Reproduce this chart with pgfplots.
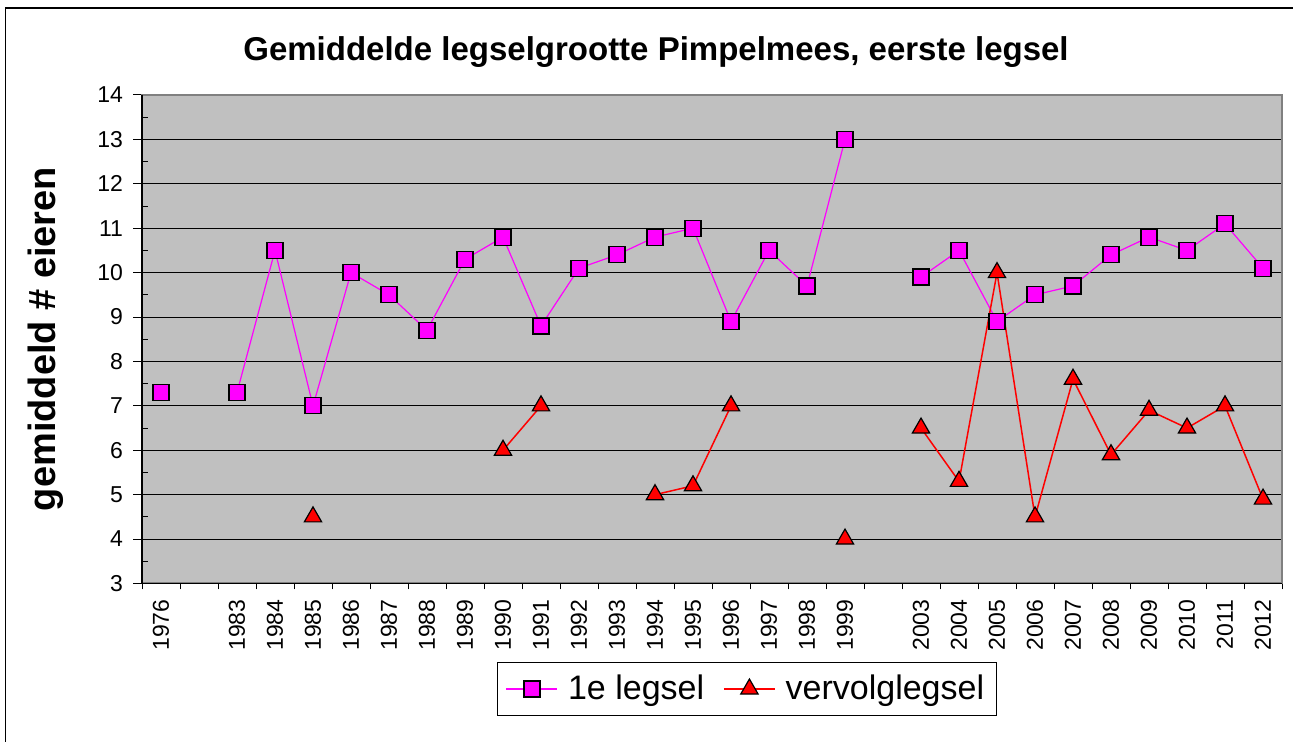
\documentclass[border=0pt]{standalone}
\usepackage{pgfplots}
\pgfplotsset{compat=1.18}
\usepackage{fontspec}
\setmainfont{Liberation Sans}
\definecolor{plotgray}{HTML}{C0C0C0}
\definecolor{bordergray}{HTML}{808080}
\definecolor{mag}{HTML}{FF00FF}
\begin{document}
\begin{tikzpicture}[x=0.5pt,y=0.5pt]
\useasboundingbox (0,0) rectangle (1293,742);
\draw[black, line width=0.75pt] (5.5,734) rectangle (1320,-20);
\node[font=\bfseries\fontsize{16.5}{18}\selectfont] at (656,690) {Gemiddelde legselgrootte Pimpelmees, eerste legsel};
\node[rotate=90, font=\bfseries\fontsize{19}{20}\selectfont] at (46,403) {gemiddeld \# eieren};
\begin{axis}[
  at={(71pt,79.25pt)}, anchor=south west, scale only axis,
  width=570pt, height=244.25pt,
  xmin=-0.5, xmax=29.5, ymin=3, ymax=14,
  axis background/.style={fill=plotgray},
  axis line style={draw=bordergray, line width=1pt},
  ytick={3,...,14}, minor ytick={3.5,4.5,...,13.5},
  ymajorgrids, major grid style={black, line width=0.5pt},
  xtick={0,...,29},
  xticklabels={1976,,1983,1984,1985,1986,1987,1988,1989,1990,1991,1992,1993,1994,1995,1996,1997,1998,1999,,2003,2004,2005,2006,2007,2008,2009,2010,2011,2012},
  minor xtick={-0.5,0.5,...,29.5},
  xtick pos=bottom, ytick pos=left,
  tick align=outside, major tick length=4.5pt, minor tick length=3pt,
  major x tick style={draw=none},
  minor x tick style={black, line width=0.5pt},
  major y tick style={black, line width=0.5pt},
  minor y tick style={black, line width=0.5pt, xshift=3pt},
  /pgf/number format/assume math mode=true,
  yticklabel style={font=\fontsize{11.5}{12}\selectfont, xshift=-1.5pt},
  xticklabel style={font=\fontsize{11.5}{12}\selectfont, rotate=90, anchor=east},
  unbounded coords=jump,
  legend style={at={(axis description cs:0.5307,-0.216)}, anchor=center,
    font=\fontsize{17}{18}\selectfont, draw=black, line width=0.5pt,
    inner xsep=4pt, inner ysep=4.5pt,
    legend columns=2,
    /tikz/every odd column/.append style={column sep=3pt},
    /tikz/every even column/.append style={column sep=7.5pt}},
  legend image code/.code={\draw[#1, mark repeat=2, mark phase=2] plot coordinates {(0pt,0pt) (12.75pt,0pt) (25.5pt,0pt)};},
  after end axis/.code={\draw[black, line width=0.6pt] (rel axis cs:0,1) -- (rel axis cs:0,0) -- (rel axis cs:1,0);},
]
\addplot[mag, line width=0.6pt, mark=square*, mark size=4pt, mark options={fill=mag, draw=black, line width=0.6pt}] coordinates {
(0,7.3) (1,nan) (2,7.3) (3,10.5) (4,7.0) (5,10.0) (6,9.5) (7,8.7) (8,10.3) (9,10.8) (10,8.8)
(11,10.1) (12,10.4) (13,10.8) (14,11.0) (15,8.9) (16,10.5) (17,9.7) (18,13.0) (19,nan)
(20,9.9) (21,10.5) (22,8.9) (23,9.5) (24,9.7) (25,10.4) (26,10.8) (27,10.5) (28,11.1) (29,10.1)};
\addlegendentry{1e legsel}
\addplot[red, line width=0.75pt, mark=triangle*, mark size=5pt, mark options={fill=red, draw=black, line width=0.6pt}] coordinates {
(4,4.5) (5,nan) (9,6.0) (10,7.0) (11,nan) (13,5.0) (14,5.2) (15,7.0) (16,nan) (18,4.0) (19,nan)
(20,6.5) (21,5.3) (22,10.0) (23,4.5) (24,7.6) (25,5.9) (26,6.9) (27,6.5) (28,7.0) (29,4.9)};
\addlegendentry{vervolglegsel}
\end{axis}
\end{tikzpicture}
\end{document}
